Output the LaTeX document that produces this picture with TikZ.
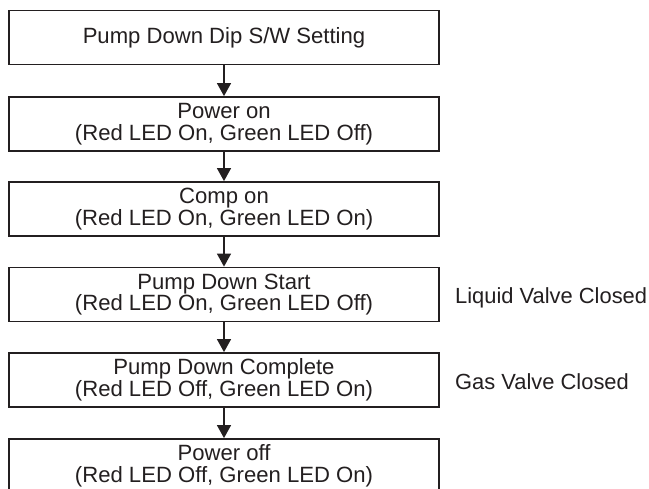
\documentclass[tikz,border=0pt]{standalone}
\usepackage{fontspec}
\setmainfont{Liberation Sans}
\usetikzlibrary{arrows.meta}
\definecolor{ink}{RGB}{35,31,32}
\begin{document}
\begin{tikzpicture}[x=1pt,y=-1pt,
  stepbox/.style={draw=ink,line width=1.8pt,minimum width=430pt,minimum height=54pt,inner sep=0pt,align=center,text=ink,font=\fontsize{22.1}{21.7}\selectfont},
  arr/.style={draw=ink,line width=1.3pt,-{Triangle[width=14pt,length=13pt]}},
  side/.style={anchor=base west,inner sep=0pt,text=ink,font=\fontsize{21.9}{21.7}\selectfont}]
\useasboundingbox (0,0) rectangle (649,489);
\clip (0,0) rectangle (649,489);
\fill[white] (0,0) rectangle (649,489);
\node[stepbox] (b1) at (224,37.5) {Pump Down Dip S/W Setting};
\node[stepbox] (b2) at (224,124) {Power on\\(Red LED On, Green LED Off)};
\node[stepbox] (b3) at (224,209) {Comp on\\(Red LED On, Green LED On)};
\node[stepbox] (b4) at (224,294.5) {Pump Down Start\\(Red LED On, Green LED Off)};
\node[stepbox] (b5) at (224,380) {Pump Down Complete\\(Red LED Off, Green LED On)};
\node[stepbox] (b6) at (224,466) {Power off\\(Red LED Off, Green LED On)};
\draw[arr] (b1.south) -- (b2.north);
\draw[arr] (b2.south) -- (b3.north);
\draw[arr] (b3.south) -- (b4.north);
\draw[arr] (b4.south) -- (b5.north);
\draw[arr] (b5.south) -- (b6.north);
\node[side] (l1) at (455,303.3) {Liquid Valve Closed};
\node[side] (l2) at (455,390) {Gas Valve Closed};
\end{tikzpicture}
\end{document}
